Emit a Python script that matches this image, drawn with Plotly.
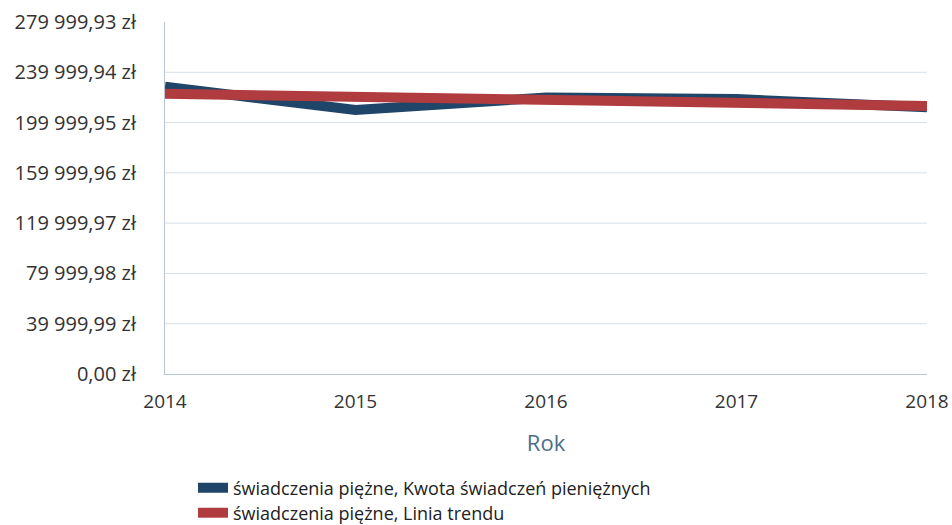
import plotly.graph_objects as go

years = [2014, 2015, 2016, 2017, 2018]
kwota = [228500, 210000, 219900, 218700, 212200]
trend = [222900, 220500, 218200, 215700, 213200]

y_tick_values = [0, 39999.99, 79999.98, 119999.97, 159999.96, 199999.95, 239999.94, 279999.93]
y_tick_labels = ["0,00 zł", "39 999,99 zł", "79 999,98 zł", "119 999,97 zł",
                 "159 999,96 zł", "199 999,95 zł", "239 999,94 zł", "279 999,93 zł"]
x_tick_labels = ["2014", "2015", "2016", "2017", "2018"]

series_names = ["świadczenia piężne, Kwota świadczeń pieniężnych",
                "świadczenia piężne, Linia trendu"]

BLUE = "#1f4568"
RED = "#b13c3f"
FONT = "Open Sans"

W, H = 952, 525

fig = go.Figure()
fig.add_trace(go.Scatter(x=years, y=kwota, mode="lines", name=series_names[0],
                         line=dict(color=BLUE, width=10), legend="legend"))
fig.add_trace(go.Scatter(x=years, y=trend, mode="lines", name=series_names[1],
                         line=dict(color=RED, width=10), legend="legend2"))

for v in y_tick_values[1:-1]:
    fig.add_hline(y=v, line=dict(color="#d7dfe8", width=1), layer="below")

leg_common = dict(orientation="v", xref="container", yref="container",
                  xanchor="left", yanchor="middle",
                  font=dict(family=FONT, size=18, color="#222222"),
                  bgcolor="rgba(0,0,0,0)", itemwidth=30)

fig.update_layout(
    width=W, height=H,
    margin=dict(l=165, r=25, t=22, b=151, autoexpand=False),
    paper_bgcolor="white", plot_bgcolor="white",
    font=dict(family=FONT, size=19, color="#333333"),
    showlegend=True,
    legend=dict(x=193 / W, y=1 - 488 / H, **leg_common),
    legend2=dict(x=193 / W, y=1 - 513 / H, **leg_common),
)
fig.update_xaxes(
    range=[2014, 2018], tickvals=years, ticktext=x_tick_labels,
    showgrid=False, zeroline=False, showline=True, linecolor="#b9c5d1", linewidth=1,
    ticks="", ticklabelstandoff=10,
    title=dict(text="Rok", font=dict(family=FONT, size=22, color="#4d6d8a"), standoff=22),
    tickfont=dict(family=FONT, size=19, color="#333333"),
)
fig.update_yaxes(
    range=[0, 279999.93], tickvals=y_tick_values, ticktext=y_tick_labels,
    showgrid=False, zeroline=False, showline=True, linecolor="#b9c5d1", linewidth=1,
    ticks="", ticklabelstandoff=24,
    tickfont=dict(family=FONT, size=20, color="#333333"),
)

fig.write_html(
    "out.html",
    config={"displayModeBar": False},
    post_script="document.body.style.margin='0';document.body.style.overflow='hidden';",
)
